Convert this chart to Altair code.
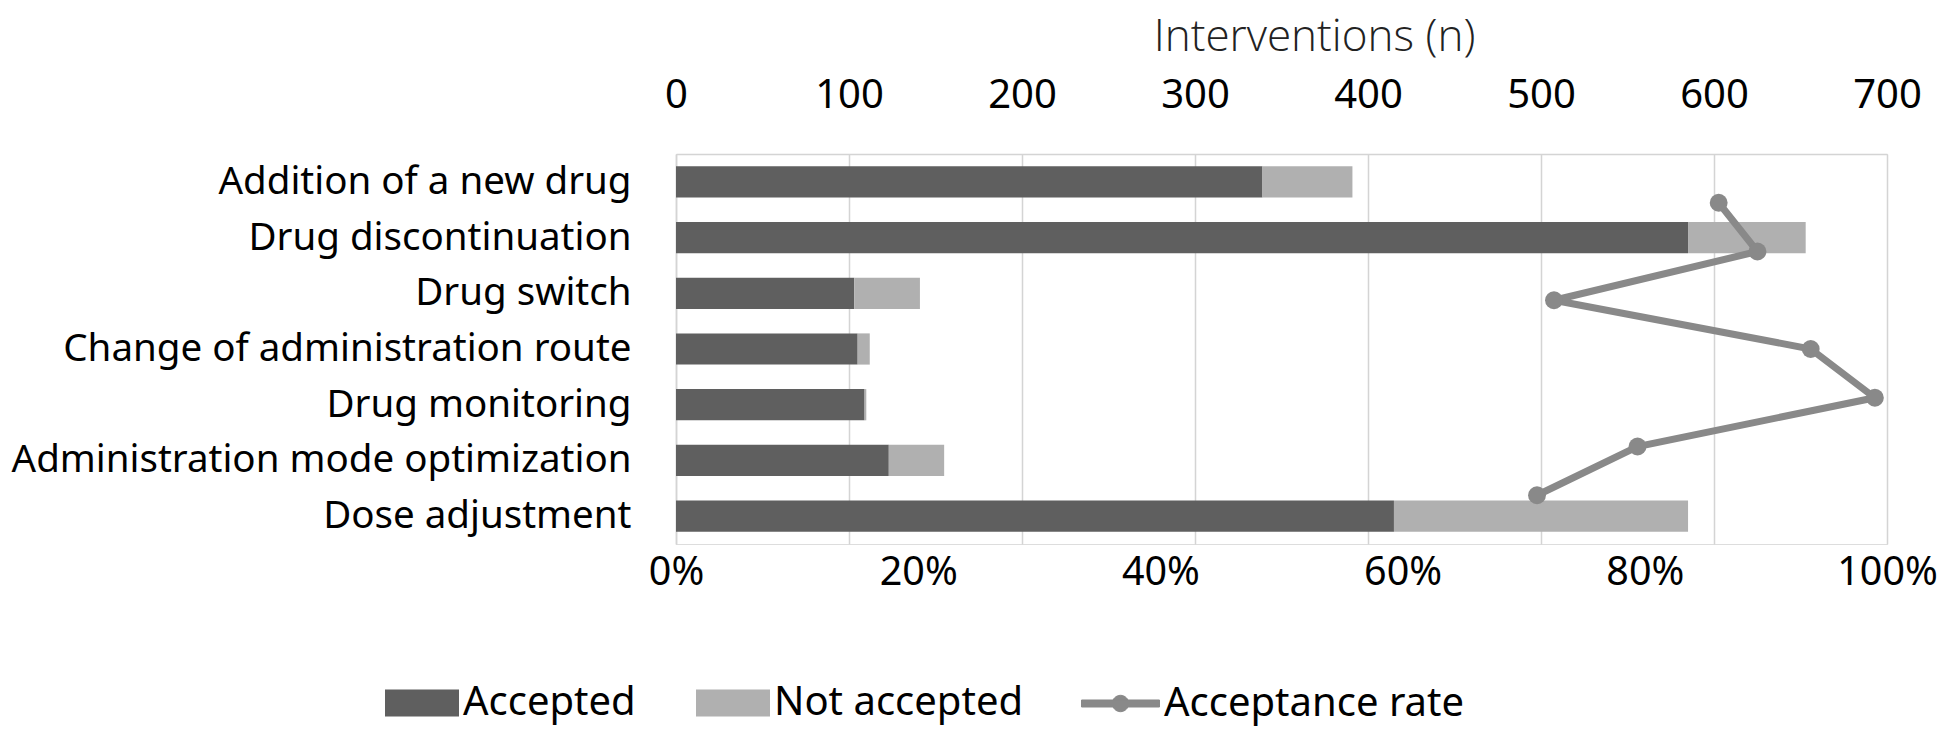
import altair as alt
import pandas as pd

categories = [
    "Addition of a new drug",
    "Drug discontinuation",
    "Drug switch",
    "Change of administration route",
    "Drug monitoring",
    "Administration mode optimization",
    "Dose adjustment",
]
accepted = [339, 585, 103, 105, 109, 123, 415]
not_accepted = [52, 68, 38, 7, 1, 32, 170]
acceptance_rate = [0.861, 0.893, 0.725, 0.937, 0.990, 0.794, 0.711]

count_ticks = [0, 100, 200, 300, 400, 500, 600, 700]
pct_ticks = [0, 0.2, 0.4, 0.6, 0.8, 1.0]
status_names = ["Accepted", "Not accepted"]
status_colors = ["#5f5f5f", "#b0b0b0"]
line_name = "Acceptance rate"
line_color = "#898989"

rows = []
for i, c in enumerate(categories):
    rows.append({"category": c, "status": status_names[0], "n": accepted[i], "ord": 0})
    rows.append({"category": c, "status": status_names[1], "n": not_accepted[i], "ord": 1})
bars_df = pd.DataFrame(rows)

line_df = pd.DataFrame({
    "category": categories,
    "rate": acceptance_rate,
    "idx": list(range(len(categories))),
    "series": [line_name] * len(categories),
})

FONT = "Noto Sans"

bars = alt.Chart(bars_df).mark_bar().encode(
    x=alt.X(
        "n:Q",
        stack="zero",
        scale=alt.Scale(domain=[0, 700], nice=False),
        axis=alt.Axis(
            orient="top",
            values=count_ticks,
            title="Interventions (n)",
            titleFont="Open Sans",
            titleFontWeight=300,
            titleFontSize=44,
            titleColor="#222222",
            titlePadding=16,
            titleX=638,
            labelFont=FONT,
            labelFontSize=40,
            labelColor="#000000",
            labelPadding=39,
            labelFlush=False,
            ticks=False,
            tickSize=0,
            grid=True,
            gridColor="#d4d4d4",
            gridWidth=1.5,
            domain=True,
            domainColor="#d4d4d4",
            domainWidth=1.5,
        ),
    ),
    y=alt.Y(
        "category:N",
        sort=categories,
        scale=alt.Scale(paddingInner=0.44, paddingOuter=0.22),
        axis=alt.Axis(
            title=None,
            labelFont=FONT,
            labelFontSize=38.5,
            labelColor="#000000",
            labelPadding=45,
            labelLimit=1000,
            ticks=False,
            tickSize=0,
            domain=True,
            domainColor="#d4d4d4",
            domainWidth=1.5,
        ),
    ),
    color=alt.Color(
        "status:N",
        scale=alt.Scale(domain=status_names, range=status_colors),
        legend=alt.Legend(
            title=None,
            orient="none",
            direction="horizontal",
            legendX=-291,
            legendY=512,
            padding=0,
            symbolType="M-1,-0.365H1V0.365H-1Z",
            symbolSize=5476,
            symbolStrokeWidth=0,
            labelFont=FONT,
            labelFontSize=40,
            labelColor="#000000",
            labelOffset=4,
            labelLimit=1000,
            columnPadding=60,
        ),
    ),
    order=alt.Order("ord:Q"),
)

line = alt.Chart(line_df).mark_line(
    strokeWidth=7,
    point=alt.OverlayMarkDef(size=320, filled=True, color=line_color),
).encode(
    x=alt.X(
        "rate:Q",
        scale=alt.Scale(domain=[0, 1], nice=False),
        axis=alt.Axis(
            orient="bottom",
            values=pct_ticks,
            format=".0%",
            title=None,
            labelFont=FONT,
            labelFontSize=39.5,
            labelColor="#000000",
            labelPadding=9,
            labelFlush=False,
            ticks=False,
            tickSize=0,
            grid=False,
            domain=False,
        ),
    ),
    y=alt.Y(
        "category:N",
        sort=categories,
        scale=alt.Scale(type="point", padding=1),
        axis=None,
    ),
    color=alt.Color(
        "series:N",
        scale=alt.Scale(domain=[line_name], range=[line_color]),
        legend=alt.Legend(
            title=None,
            orient="none",
            direction="horizontal",
            legendX=405,
            legendY=510,
            padding=0,
            symbolType="M-1,-0.09H1V0.09H-1Z M-0.21,0A0.21,0.21,0,1,1,0.21,0A0.21,0.21,0,1,1,-0.21,0Z",
            symbolSize=6084,
            symbolFillColor=line_color,
            symbolStrokeColor=line_color,
            symbolStrokeWidth=1,
            labelFont=FONT,
            labelFontSize=40,
            labelColor="#000000",
            labelOffset=4,
            labelLimit=1000,
        ),
    ),
    order=alt.Order("idx:Q"),
)

chart = (
    alt.layer(bars, line)
    .resolve_scale(x="independent", y="independent", color="independent")
    .resolve_legend(color="independent")
    .properties(
        width=1211,
        height=390,
        autosize=alt.AutoSizeParams(type="none"),
        padding={"left": 668, "top": 146, "right": 51, "bottom": 184},
    )
    .configure_view(stroke=None)
    .configure(background="white")
)

chart.save("out.html", embed_options={"renderer": "svg", "actions": False})
